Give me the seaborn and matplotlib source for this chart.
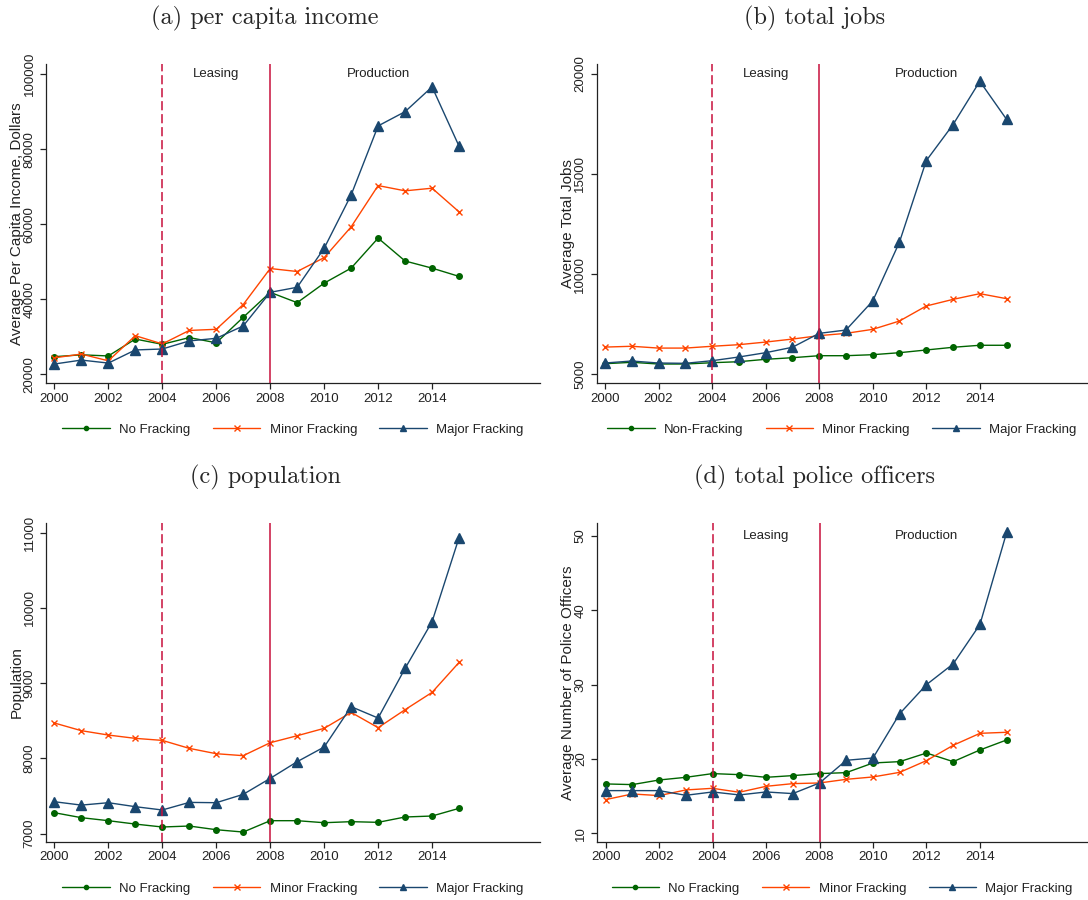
import numpy as np
import pandas as pd
import matplotlib
matplotlib.use("Agg")
import matplotlib.pyplot as plt
import seaborn as sns

years = list(range(2000, 2016))
groups = ["No Fracking", "Minor Fracking", "Major Fracking"]

# (a) per capita income
income_no = [24700, 25200, 24900, 29400, 28000, 29800, 28400, 35200,
             41850, 39100, 44300, 48300, 56300, 50200, 48300, 46100]
income_minor = [24400, 25400, 23600, 30300, 28100, 31700, 32000, 38600,
                48200, 47400, 51100, 59300, 70300, 68900, 69600, 63300]
income_major = [22750, 23800, 23000, 26500, 26750, 28900, 29600, 32900,
                41850, 43200, 53600, 67800, 86200, 90000, 96600, 80800]

# (b) total jobs
jobs_no = [5530, 5600, 5515, 5515, 5580, 5630, 5750, 5830,
           5930, 5930, 5980, 6080, 6215, 6350, 6450, 6450]
jobs_minor = [6360, 6400, 6310, 6310, 6400, 6480, 6610, 6760,
              6930, 7045, 7245, 7660, 8410, 8740, 9025, 8775]
jobs_major = [5565, 5665, 5565, 5550, 5680, 5865, 6080, 6350,
              7045, 7210, 8660, 11600, 15660, 17460, 19620, 17720]

# (c) population
pop_no = [7279, 7213, 7173, 7128, 7089, 7102, 7053, 7022,
          7173, 7173, 7146, 7160, 7151, 7222, 7235, 7337]
pop_minor = [8471, 8369, 8311, 8267, 8240, 8134, 8063, 8037,
             8209, 8302, 8400, 8612, 8409, 8648, 8878, 9276]
pop_major = [7425, 7380, 7412, 7359, 7315, 7416, 7412, 7523,
             7735, 7957, 8152, 8688, 8537, 9197, 9817, 10934]

# (d) total police officers
police_no = [16.64, 16.55, 17.17, 17.53, 18.03, 17.89, 17.53, 17.76,
             18.03, 18.16, 19.46, 19.64, 20.8, 19.64, 21.21, 22.56]
police_minor = [14.53, 15.29, 15.07, 15.83, 16.05, 15.52, 16.32, 16.68,
                16.77, 17.26, 17.58, 18.2, 19.78, 21.84, 23.45, 23.59]
police_major = [15.74, 15.74, 15.74, 15.11, 15.56, 15.16, 15.56, 15.34,
                16.77, 19.82, 20.13, 26.1, 30.0, 32.8, 38.1, 50.5]

sns.set_theme(style="ticks")
plt.rcParams["font.family"] = ["Liberation Sans", "DejaVu Sans"]

colors = {"No Fracking": "#006400", "Minor Fracking": "#ff4500", "Major Fracking": "#1a476f"}
markers = {"No Fracking": "o", "Minor Fracking": "x", "Major Fracking": "^"}
msizes = {"No Fracking": 4, "Minor Fracking": 5, "Major Fracking": 6.5}
vcolor = "#c8103c"

fig = plt.figure(figsize=(10.88, 9), dpi=100)

panels = [
    dict(title="(a) per capita income", ylabel="Average Per Capita Income, Dollars",
         data=[income_no, income_minor, income_major], legend0="No Fracking",
         rect=[0.0423, 0.5744, 0.454, 0.3545], ylim=(17680, 102700),
         yticks=[20000, 40000, 60000, 80000, 100000], text=True, tx=0.2436, ty=0.98),
    dict(title="(b) total jobs", ylabel="Average Total Jobs",
         data=[jobs_no, jobs_minor, jobs_major], legend0="Non-Fracking",
         rect=[0.5484, 0.5744, 0.4506, 0.3545], ylim=(4566, 20484),
         yticks=[5000, 10000, 15000, 20000], text=True, tx=0.749, ty=0.98),
    dict(title="(c) population", ylabel="Population",
         data=[pop_no, pop_minor, pop_major], legend0="No Fracking",
         rect=[0.0423, 0.0648, 0.454, 0.3541], ylim=(6894, 11129),
         yticks=[7000, 8000, 9000, 10000, 11000], text=False, tx=0.2436, ty=0.47),
    dict(title="(d) total police officers", ylabel="Average Number of Police Officers",
         data=[police_no, police_minor, police_major], legend0="No Fracking",
         rect=[0.549, 0.0648, 0.45, 0.3541], ylim=(8.87, 51.75),
         yticks=[10, 20, 30, 40, 50], text=True, tx=0.749, ty=0.47),
]

for p in panels:
    ax = fig.add_axes(p["rect"])
    for g, vals in zip(groups, p["data"]):
        lab = p["legend0"] if g == "No Fracking" else g
        sns.lineplot(x=years, y=vals, ax=ax, color=colors[g], marker=markers[g],
                     markersize=msizes[g], markeredgecolor=colors[g],
                     markeredgewidth=1.0, linewidth=1.0, label=lab)
    ax.axvline(2004, color=vcolor, linewidth=1.1, linestyle=(0, (6, 2.5)))
    ax.axvline(2008, color=vcolor, linewidth=1.1)
    ax.set_xlim(1999.69, 2018.0)
    ax.set_ylim(*p["ylim"])
    ax.set_xticks(range(2000, 2015, 2))
    ax.set_yticks(p["yticks"])
    ax.set_yticklabels([str(t) for t in p["yticks"]], rotation=90, va="center")
    ax.tick_params(axis="both", labelsize=9.5, length=4, width=0.9,
                   color="#222222", labelcolor="#222222", direction="out")
    ax.tick_params(axis="y", pad=3.5)
    ax.tick_params(axis="x", pad=3)
    for side in ["top", "right"]:
        ax.spines[side].set_visible(False)
    for side in ["left", "bottom"]:
        ax.spines[side].set_color("#222222")
        ax.spines[side].set_linewidth(0.9)
    ax.set_xlabel("")
    ax.set_ylabel(p["ylabel"], fontsize=11, color="#222222")
    ax.yaxis.set_label_coords(-0.045, 0.5)
    ax.grid(False)
    if p["text"]:
        top = p["yticks"][-1]
        ax.text(2006, top, "Leasing", ha="center", va="center", fontsize=9.5, color="#222222")
        ax.text(2012, top, "Production", ha="center", va="center", fontsize=9.5, color="#222222")
    ax.legend(loc="center", bbox_to_anchor=(0.5, -0.147), ncol=3, frameon=False,
              fontsize=9.5, handlelength=3.6, handletextpad=0.7, columnspacing=1.7,
              labelcolor="#222222", markerscale=0.75)
    fig.text(p["tx"], p["ty"], p["title"], ha="center", va="center",
             fontsize=17.5, family="cmr10")

fig.savefig("out.png", dpi=100)
